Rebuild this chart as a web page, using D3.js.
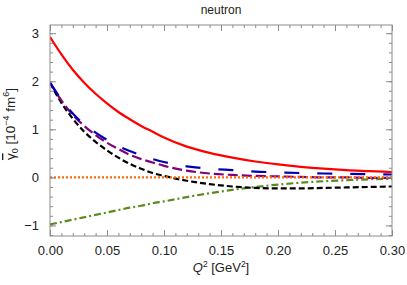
<!DOCTYPE html>
<html>
<head>
<meta charset="utf-8">
<script src="https://cdnjs.cloudflare.com/ajax/libs/d3/7.8.5/d3.min.js"></script>
<style>
  body { margin: 0; background: #fff; }
  text { font-family: "Liberation Sans", Arial, sans-serif; fill: #222; }
</style>
</head>
<body>
<div id="chart"></div>
<script>
// Q^2 grid [GeV^2]
var q2 = [0, 0.01, 0.02, 0.03, 0.04, 0.05, 0.06, 0.07, 0.08, 0.09, 0.10,
          0.12, 0.14, 0.16, 0.18, 0.20, 0.22, 0.24, 0.26, 0.28, 0.30];

var redSolid   = [2.92, 2.56, 2.24, 1.97, 1.74, 1.54, 1.36, 1.21, 1.07, 0.95, 0.83,
                  0.64, 0.51, 0.41, 0.33, 0.27, 0.22, 0.18, 0.15, 0.13, 0.11];
var blueDash   = [1.97, 1.62, 1.33, 1.10, 0.93, 0.78, 0.65, 0.55, 0.46, 0.38, 0.32,
                  0.23, 0.18, 0.15, 0.12, 0.105, 0.09, 0.08, 0.072, 0.065, 0.06];
var purpleDash = [1.97, 1.60, 1.30, 1.07, 0.88, 0.72, 0.59, 0.47, 0.38, 0.31, 0.24,
                  0.14, 0.08, 0.05, 0.03, 0.02, 0.01, 0.0, 0.0, -0.01, -0.01];
var blackDash  = [1.97, 1.55, 1.22, 0.95, 0.74, 0.56, 0.41, 0.28, 0.18, 0.09, 0.03,
                  -0.07, -0.14, -0.19, -0.22, -0.23, -0.23, -0.22, -0.21, -0.20, -0.19];
var greenDot   = [-0.98, -0.93, -0.88, -0.83, -0.78, -0.73, -0.68, -0.63, -0.59, -0.54, -0.50,
                  -0.41, -0.33, -0.26, -0.20, -0.15, -0.11, -0.08, -0.06, -0.04, -0.03];
var orangeDot  = [0, 0, 0, 0, 0, 0, 0, 0, 0, 0, 0,
                  0, 0, 0, 0, 0, 0, 0, 0, 0, 0];

var xTicks = [0, 0.05, 0.10, 0.15, 0.20, 0.25, 0.30];
var yTicks = [-1, 0, 1, 2, 3];

var series = [
    {name: "green",  values: greenDot,   color: "#5b8a1f", dash: "7,3,2,3"},
    {name: "black",  values: blackDash,  color: "#000000", dash: "6,3"},
    {name: "purple", values: purpleDash, color: "#800080", dash: "10,4"},
    {name: "blue",   values: blueDash,   color: "#0000b4", dash: "15,18"},
    {name: "orange", values: orangeDot,  color: "#ff6a00", dash: "2,2"},
    {name: "red",    values: redSolid,   color: "#ff0000", dash: null}
];

var W = 407, H = 285;
var margin = {left: 50, right: 15, top: 25, bottom: 49};
var iw = W - margin.left - margin.right,
    ih = H - margin.top - margin.bottom;

var x = d3.scaleLinear().domain([0, 0.3]).range([0, iw]);
var y = d3.scaleLinear().domain([-1.22, 3.17]).range([ih, 0]);

var svg = d3.select("#chart").append("svg").attr("width", W).attr("height", H);
var g = svg.append("g").attr("transform", "translate(" + margin.left + "," + margin.top + ")");

// clip for curves
g.append("clipPath").attr("id", "clip").append("rect").attr("width", iw).attr("height", ih);

var line = d3.line()
    .x(function(d, i) { return x(q2[i]); })
    .y(function(d) { return y(d); })
    .curve(d3.curveMonotoneX);

g.append("g").attr("clip-path", "url(#clip)")
  .selectAll("path").data(series).enter().append("path")
    .attr("d", function(d) { return line(d.values); })
    .attr("fill", "none")
    .attr("stroke", function(d) { return d.color; })
    .attr("stroke-width", 2.2)
    .attr("stroke-dasharray", function(d) { return d.dash; });

// frame with inward ticks, Mathematica style
var frameColor = "#8c8c8c";
var xMinor = d3.range(0, 0.3001, 0.01);
var yMinor = d3.range(-1.2, 3.1501, 0.2);

function tickAxis(axisFn, scale, major, minor, tr, labels, pad) {
    var ax = g.append("g").attr("transform", tr);
    ax.call(axisFn(scale).tickValues(minor).tickSize(-3).tickFormat(""));
    ax.select(".domain").remove();
    var ax2 = g.append("g").attr("transform", tr);
    ax2.call(axisFn(scale).tickValues(major).tickSize(-6).tickPadding(pad || 8)
        .tickFormat(labels ? labels : ""));
    ax2.select(".domain").remove();
    [ax, ax2].forEach(function(a) {
        a.selectAll("line").attr("stroke", frameColor);
        a.selectAll("text").attr("font-size", 13).attr("fill", "#222")
            .style("font-family", "'Liberation Sans', Arial, sans-serif");
    });
    return ax2;
}

tickAxis(d3.axisBottom, x, xTicks, xMinor, "translate(0," + ih + ")", d3.format(".2f"), 10);
tickAxis(d3.axisTop, x, xTicks, xMinor, "translate(0,0)", null);
tickAxis(d3.axisLeft, y, yTicks, yMinor, "translate(0,0)",
    function(d) { return d < 0 ? "\u2212" + Math.abs(d) : d; }, 11);
tickAxis(d3.axisRight, y, yTicks, yMinor, "translate(" + iw + ",0)", null);

g.append("rect").attr("width", iw).attr("height", ih)
    .attr("fill", "none").attr("stroke", frameColor).attr("stroke-width", 1);

// title
svg.append("text").attr("x", margin.left + iw / 2).attr("y", 14)
    .attr("text-anchor", "middle").attr("font-size", 12).text("neutron");

// x label
var xl = svg.append("text").attr("x", margin.left + iw / 2).attr("y", 272)
    .attr("text-anchor", "middle").attr("font-size", 13);
xl.append("tspan").attr("font-style", "italic").text("Q");
xl.append("tspan").attr("font-size", 8.5).attr("dy", -5).text("2");
xl.append("tspan").attr("dy", 5).text(" [GeV");
xl.append("tspan").attr("font-size", 8.5).attr("dy", -5).text("2");
xl.append("tspan").attr("dy", 5).text("]");

// y label
var yl = svg.append("text")
    .attr("transform", "translate(15,124) rotate(-90)")
    .attr("text-anchor", "middle").attr("font-size", 13.5);
yl.append("tspan").style("text-decoration", "overline").text("\u03b3");
yl.append("tspan").attr("font-size", 9).attr("dy", 3).text("0");
yl.append("tspan").attr("dy", -3).text(" [10");
yl.append("tspan").attr("font-size", 9).attr("dy", -6).text("\u22124");
yl.append("tspan").attr("dy", 6).text(" fm");
yl.append("tspan").attr("font-size", 9).attr("dy", -6).text("6");
yl.append("tspan").attr("dy", 6).text("]");
</script>
</body>
</html>
